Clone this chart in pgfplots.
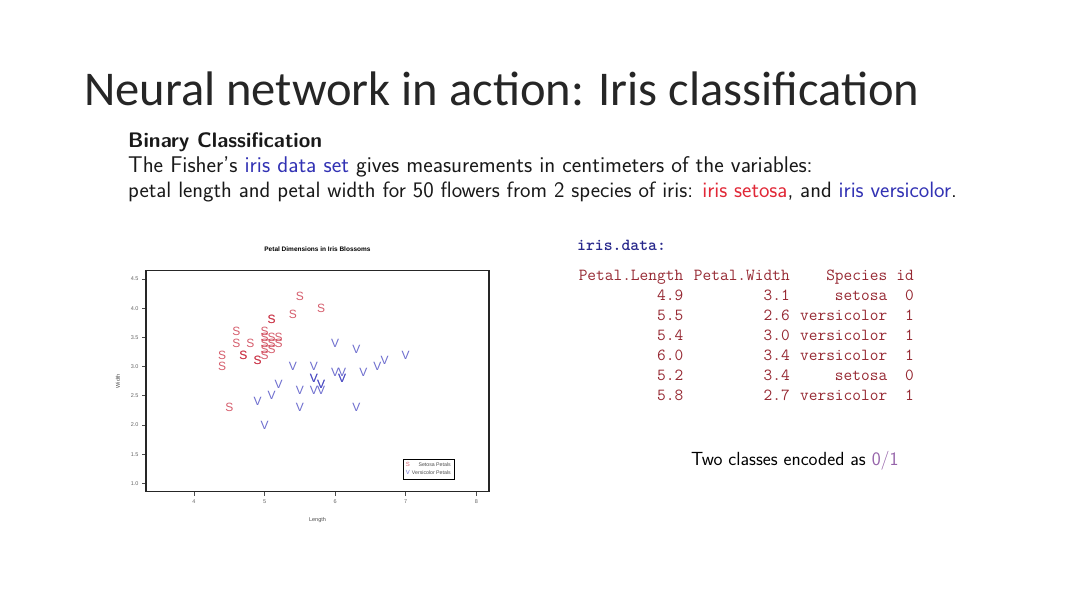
\documentclass[border=0pt]{standalone}
\usepackage{fontspec}
\newfontfamily\slidefont{Carlito}
\newfontfamily\plotfont{Liberation Sans}
\usepackage{pgfplots}
\usepackage{pgfplotstable}
\pgfplotsset{compat=1.18}

\definecolor{setred}{RGB}{200,40,60}
\definecolor{verblue}{RGB}{60,60,190}
\definecolor{linkblue}{RGB}{50,50,180}
\definecolor{irisred}{RGB}{225,40,55}
\definecolor{ttred}{RGB}{150,40,50}
\definecolor{ttblue}{RGB}{40,40,140}
\definecolor{numpurple}{RGB}{150,100,170}

% sample of 25 setosa and 25 versicolor flowers (length, width)
\pgfplotstableread{
x y
5.5 4.2
5.4 3.9
5.8 4.0
5.1 3.8
5.1 3.8
4.6 3.6
5.0 3.6
4.6 3.4
4.8 3.4
5.0 3.5
5.0 3.4
5.0 3.3
5.0 3.2
5.2 3.5
5.2 3.4
5.1 3.5
5.1 3.4
4.4 3.2
4.4 3.0
4.7 3.2
4.7 3.2
4.9 3.1
4.9 3.1
4.5 2.3
5.1 3.3
}\setosa

\pgfplotstableread{
x y
6.0 3.4
6.3 3.3
7.0 3.2
6.7 3.1
6.6 3.0
6.4 2.9
5.4 3.0
5.7 3.0
6.0 2.9
6.1 2.9
6.1 2.8
6.1 2.8
5.7 2.8
5.7 2.8
5.8 2.7
5.8 2.6
5.7 2.6
5.5 2.6
5.2 2.7
5.1 2.5
4.9 2.4
5.5 2.3
6.3 2.3
5.0 2.0
5.8 2.7
}\versicolor

\begin{document}
\begin{tikzpicture}
\fill[white] (0,0) rectangle (1080pt,608pt);
\useasboundingbox (0,0) rectangle (1080pt,608pt);

% slide title
\node[anchor=base west, inner sep=0pt, text=black!85] at (84pt,502pt)
  {\slidefont\fontsize{48.5}{52}\selectfont Neural network in action: Iris classification};

% intro text
\begin{scope}[every node/.style={anchor=base west, inner sep=0pt, text=black!90}]
\node[font=\sffamily\bfseries\fontsize{21}{24}\selectfont] at (128pt,460pt) {Binary Classification};
\node[font=\sffamily\fontsize{22.7}{26}\selectfont] at (128pt,435pt) {The Fisher's \textcolor{linkblue}{iris data set} gives measurements in centimeters of the variables:};
\node[font=\sffamily\fontsize{22.2}{26}\selectfont] at (128pt,410pt) {petal length and petal width for 50 flowers from 2 species of iris: \textcolor{irisred}{iris setosa}, and \textcolor{linkblue}{iris versicolor}.};
\end{scope}

% data listing
\begin{scope}[every node/.style={anchor=base east, inner sep=0pt, text=ttred, font=\ttfamily\fontsize{16.9}{20}\selectfont}]
\node[anchor=base west, text=ttblue] at (577pt,357pt) {\bfseries iris.data:};
\node at (683.4pt,327pt) {Petal.Length};
\node at (789.9pt,327pt) {Petal.Width};
\node at (887.4pt,327pt) {Species};
\node at (914pt,327pt) {id};
\foreach \l/\w/\s/\i [count=\k] in {4.9/3.1/setosa/0, 5.5/2.6/versicolor/1, 5.4/3.0/versicolor/1, 6.0/3.4/versicolor/1, 5.2/3.4/setosa/0, 5.8/2.7/versicolor/1}{
  \node at (683.4pt,327pt-20pt*\k) {\l};
  \node at (789.9pt,327pt-20pt*\k) {\w};
  \node at (887.4pt,327pt-20pt*\k) {\s};
  \node at (914pt,327pt-20pt*\k) {\i};
}
\end{scope}

\node[anchor=base west, inner sep=0pt, font=\sffamily\fontsize{19}{22}\selectfont] at (691pt,142pt)
  {Two classes encoded as \textcolor{numpurple}{0/1}};

\begin{axis}[
  at={(146pt,116.3pt)}, anchor=south west,
  scale only axis, width=343pt, height=221pt,
  xmin=3.32, xmax=8.18, ymin=0.86, ymax=4.64,
  xtick={4,5,6,7,8}, ytick={1,1.5,2,2.5,3,3.5,4,4.5},
  yticklabel style={/pgf/number format/.cd, fixed, fixed zerofill, precision=1},
  /pgf/number format/assume math mode=true,
  tick align=outside, major tick length=4pt,
  xtick pos=bottom, ytick pos=left,
  axis line style={line width=1.1pt, black!85},
  tick style={line width=0.7pt, black!70},
  ticklabel style={font=\plotfont\fontsize{5.5}{6}\selectfont, text=black!60},
  title={Petal Dimensions in Iris Blossoms},
  title style={at={(axis description cs:0.5,1.072)}, anchor=center, font=\plotfont\bfseries\fontsize{6.5}{7}\selectfont},
  xlabel={Length},
  xlabel style={at={(axis description cs:0.5,-0.128)}, anchor=center, font=\plotfont\fontsize{5.5}{6}\selectfont, text=black!70},
  ylabel={Width},
  ylabel style={at={(axis description cs:-0.082,0.5)}, anchor=center, font=\plotfont\fontsize{5.5}{6}\selectfont, text=black!70},
  legend style={at={(axis cs:7.70,1.06)}, anchor=south east, draw=black, line width=0.9pt,
    font=\plotfont\fontsize{5.2}{6}\selectfont, text=black!70, inner xsep=2pt, inner ysep=1.5pt,
    row sep=-1.5pt},
  legend cell align=right,
]
\addplot[only marks, mark=text, text mark={S}, text mark as node=true,
  text mark style={font=\plotfont\fontsize{12}{12}\selectfont, text=setred, text opacity=0.75, inner sep=0pt},
  legend image code/.code={\node[inner sep=0pt, font=\plotfont\fontsize{6}{6}\selectfont, text=setred!70] at (0.05cm,0) {S};}]
  table[x=x, y=y] {\setosa};
\addlegendentry{Setosa Petals}
\addplot[only marks, mark=text, text mark={V}, text mark as node=true,
  text mark style={font=\plotfont\fontsize{12}{12}\selectfont, text=verblue, text opacity=0.75, inner sep=0pt},
  legend image code/.code={\node[inner sep=0pt, font=\plotfont\fontsize{6}{6}\selectfont, text=verblue!70] at (0.05cm,0) {V};}]
  table[x=x, y=y] {\versicolor};
\addlegendentry{Versicolor Petals}
\end{axis}
\end{tikzpicture}
\end{document}
